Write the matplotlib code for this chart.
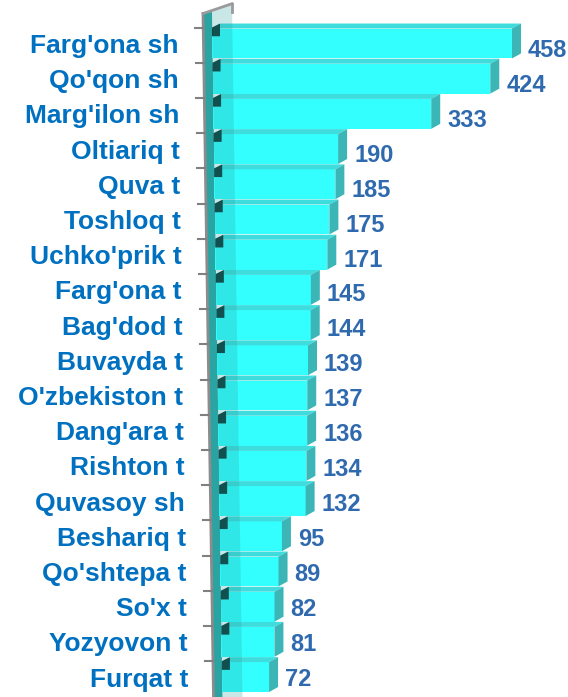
import numpy as np
import matplotlib.pyplot as plt
from matplotlib.patches import Polygon

# district names and values, top to bottom
districts = ["Farg'ona sh", "Qo'qon sh", "Marg'ilon sh", "Oltiariq t", "Quva t",
             "Toshloq t", "Uchko'prik t", "Farg'ona t", "Bag'dod t", "Buvayda t",
             "O'zbekiston t", "Dang'ara t", "Rishton t", "Quvasoy sh", "Beshariq t",
             "Qo'shtepa t", "So'x t", "Yozyovon t", "Furqat t"]
values = [458, 424, 333, 190, 185, 175, 171, 145, 144, 139,
          137, 136, 134, 132, 95, 89, 82, 81, 72]

W, H = 568, 697
px = 0.655          # pixels per unit of value
x0_px = 212         # pixel of value 0 at the top row
row0_px, row_px = 47, 35.2

fig = plt.figure(figsize=(W / 100, H / 100), dpi=100)
ax = fig.add_axes([0, 0, 1, 1])
ax.set_xlim(-x0_px / px, (W - x0_px) / px)
y_bot = (H - row0_px) / row_px
ax.set_ylim(y_bot, -row0_px / row_px)
ax.axis('off')

front = '#33FFFF'
top_c = '#3EDCDC'
side_c = '#3BB5B5'
lab_c = '#0070C0'
val_c = '#2F6AAF'

n = len(values)
rows = np.arange(n)
shift = rows * 0.55 / px            # slight perspective drift to the right
h = 0.85
yc = rows - 0.1
dx, dy = 9 / px, 5 / row_px

# wall (left side panel)
wall_top = -0.95
wall_l = -9 / px
drift = 10.5 / px
wall = Polygon([(wall_l, wall_top), (0, wall_top - 0.05),
                (drift, y_bot), (wall_l + drift, y_bot)],
               closed=True, fc='#2AA3A3', ec='none', zorder=1)
ax.add_patch(wall)
ax.plot([wall_l, wall_l + drift], [wall_top, y_bot], color='#8C8C8C', lw=2, zorder=6)
ax.plot([wall_l, 20 / px], [wall_top, wall_top - 0.28], color='#9A9A9A', lw=2, zorder=6)
ax.plot([20 / px, 20 / px], [wall_top - 0.28, wall_top - 0.05], color='#9A9A9A', lw=2, zorder=6)

# ticks on wall between rows
for i in range(n):
    yt = i - 0.55
    xt = wall_l + drift * (yt - wall_top) / (y_bot - wall_top)
    ax.plot([xt - 8 / px, xt], [yt, yt], color='#808080', lw=1.5, zorder=6)

for i, v in enumerate(values):
    l = shift[i]
    t = yc[i] - h / 2
    b = yc[i] + h / 2
    ax.barh(yc[i], v, left=l, height=h, color=front, edgecolor='none', zorder=3)
    ax.add_patch(Polygon([(l, t), (l + v, t), (l + v + dx, t - dy), (l + dx, t - dy)],
                         closed=True, fc=top_c, ec='none', zorder=3))
    ax.add_patch(Polygon([(l + v, t), (l + v + dx, t - dy), (l + v + dx, b - dy), (l + v, b)],
                         closed=True, fc=side_c, ec='none', zorder=3))
    # dark notch near the wall
    ax.add_patch(Polygon([(l, t - dy * 0.2), (l + 8 / px, t - dy), (l + 8 / px, t + 0.22), (l, t + 0.22)],
                         closed=True, fc='#0B3535', ec='none', zorder=4))
    ax.text(l + v + dx + 7 / px, rows[i] + 0.1 - 0.008 * i, str(v), ha='left', va='center',
            fontsize=17, fontweight='bold', color=val_c, family='Liberation Sans', zorder=7)
    ax.text(l - 34 / px, rows[i] - 0.03, districts[i], ha='right', va='center',
            fontsize=19, fontweight='bold', color=lab_c, family='Liberation Sans', zorder=7)

# translucent front of the wall over the bars
ax.add_patch(Polygon([(0, wall_top - 0.05), (20 / px, wall_top - 0.28),
                      (20 / px + drift, y_bot), (drift, y_bot)],
                     closed=True, fc='#2AA3A3', alpha=0.25, ec='none', zorder=5))

fig.savefig('out.png', dpi=100)
